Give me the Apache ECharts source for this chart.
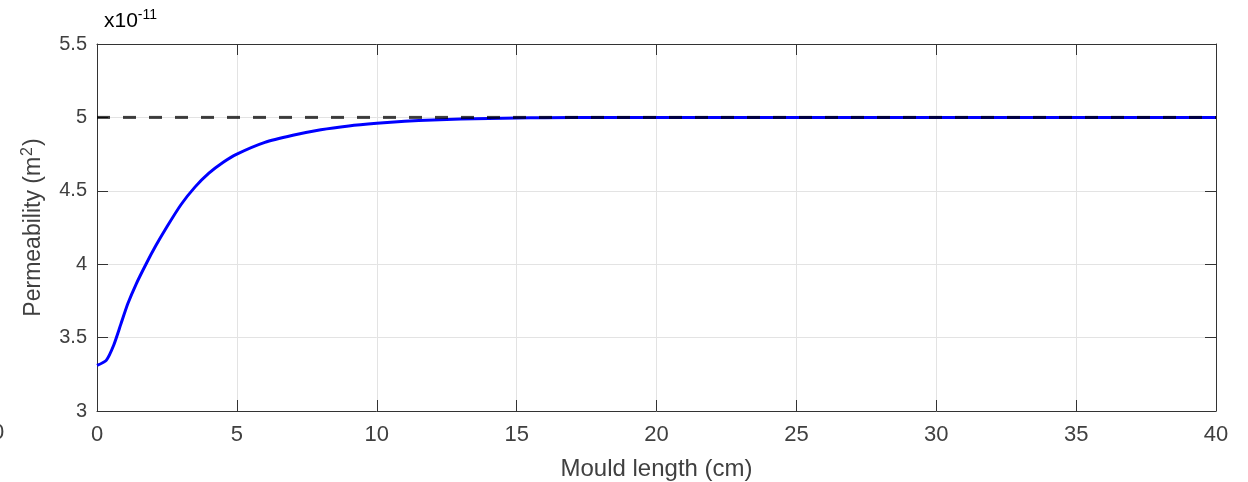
<!DOCTYPE html>
<html><head><meta charset="utf-8">
<script src="https://cdn.jsdelivr.net/npm/echarts@6/dist/echarts.min.js"></script>
<style>html,body{margin:0;padding:0;background:#fff}#c{width:1248px;height:482px}</style>
</head><body><div id="c"></div>
<script>
// Mould length (cm)
const lengthCm = [0, 0.33, 0.6, 0.85, 1.1, 1.4, 1.75, 2.1, 2.5, 3.0, 3.5, 4.0, 4.5, 5, 6, 7, 8, 9, 10, 11, 12, 13, 14, 15, 16, 18, 20, 25, 30, 35, 40];
// Permeability (x1e-11 m^2)
const permeability = [3.31, 3.345, 3.45, 3.59, 3.73, 3.865, 4.0, 4.125, 4.255, 4.405, 4.525, 4.62, 4.693, 4.75, 4.83, 4.878, 4.916, 4.942, 4.96, 4.974, 4.983, 4.989, 4.993, 4.996, 4.998, 4.999, 5.0, 5.0, 5.0, 5.0, 5.0];
// Reference (asymptote) value
const refX = [0, 40];
const refY = [5, 5];

const font = 'Liberation Sans, Arial, sans-serif';
const axCol = '#333333';
const txtCol = '#404040';

const chart = echarts.init(document.getElementById('c'));
const baseX = {
  type: 'value', min: 0, max: 40, interval: 5,
  axisLine: {show: true, onZero: false, lineStyle: {color: axCol, width: 1}},
  axisTick: {show: true, inside: true, length: 11, lineStyle: {color: axCol}},
  splitLine: {show: false}
};
const baseY = {
  type: 'value', min: 3, max: 5.5, interval: 0.5,
  axisLine: {show: true, onZero: false, lineStyle: {color: axCol, width: 1}},
  axisTick: {show: true, inside: true, length: 11, lineStyle: {color: axCol}},
  splitLine: {show: false}
};
chart.setOption({
  animation: false,
  grid: {left: 97, right: 32, top: 44, bottom: 71, containLabel: false, outerBoundsMode: 'none'},
  xAxis: [
    Object.assign({}, baseX, {
      position: 'bottom',
      name: 'Mould length (cm)', nameLocation: 'middle', nameGap: 46,
      nameTextStyle: {fontFamily: font, fontSize: 24, color: txtCol},
      axisLabel: {fontFamily: font, fontSize: 22, color: txtCol, margin: 13},
      splitLine: {show: true, lineStyle: {color: '#e3e3e3', width: 1}}
    }),
    Object.assign({}, baseX, {position: 'top', axisLabel: {show: false}})
  ],
  yAxis: [
    Object.assign({}, baseY, {
      position: 'left',
      name: '{n|Permeability (m}{s|2}{n|)}', nameLocation: 'middle', nameGap: 49,
      nameTextStyle: {
        rich: {
          n: {fontFamily: font, fontSize: 23, color: txtCol},
          s: {fontFamily: font, fontSize: 16, color: txtCol, verticalAlign: 'top', padding: [0, 1, 12, 1]}
        }
      },
      axisLabel: {fontFamily: font, fontSize: 20, color: txtCol, margin: 10},
      splitLine: {show: true, lineStyle: {color: '#e3e3e3', width: 1}}
    }),
    Object.assign({}, baseY, {position: 'right', axisLabel: {show: false}})
  ],
  graphic: [
    {type: 'text', left: 104, top: 8, style: {
      text: '{a|x10}{b|-11}',
      rich: {
        a: {fontFamily: font, fontSize: 21, fill: '#000'},
        b: {fontFamily: font, fontSize: 14, fill: '#000', verticalAlign: 'top', padding: [0, 0, 12, 0]}
      }
    }},
    {type: 'text', left: -8, top: 422, style: {text: '0', fontFamily: font, fontSize: 22, fill: txtCol}}
  ],
  series: [
    {
      type: 'line', xAxisIndex: 0, yAxisIndex: 0, showSymbol: false, symbol: 'none',
      smooth: 0.2,
      data: lengthCm.map((x, i) => [x, permeability[i]]),
      lineStyle: {color: '#0000ff', width: 3}, z: 3
    },
    {
      type: 'line', xAxisIndex: 0, yAxisIndex: 0, showSymbol: false, symbol: 'none',
      data: refX.map((x, i) => [x, refY[i]]),
      lineStyle: {color: 'rgba(0,0,0,0.75)', width: 3, type: [13, 13]}, z: 4
    }
  ]
});
</script></body></html>
